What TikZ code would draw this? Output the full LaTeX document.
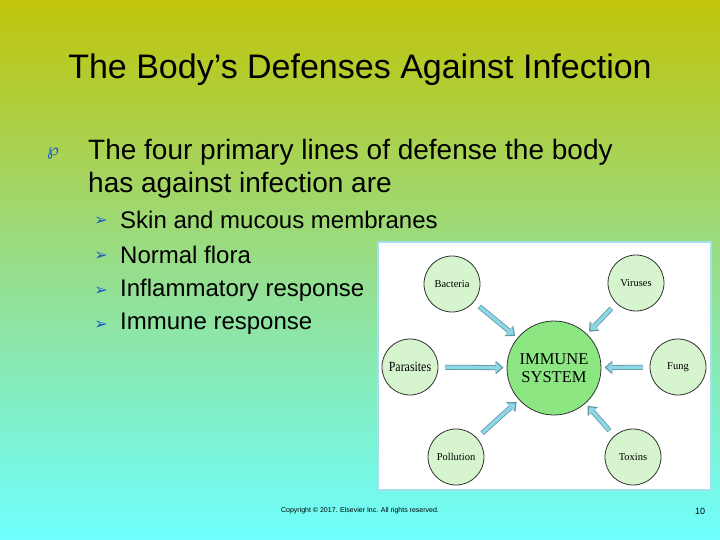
\documentclass[tikz,border=0pt]{standalone}
\usepackage{fontspec}
\setmainfont{Liberation Sans}
\newfontfamily\serifc{Liberation Serif}
\newfontfamily\dejavu{DejaVu Sans}
\usetikzlibrary{arrows.meta}
\definecolor{bgtop}{RGB}{192,196,10}
\definecolor{bgmid}{RGB}{150,222,140}
\definecolor{bgbot}{RGB}{110,255,255}
\definecolor{cfill}{RGB}{214,245,206}
\definecolor{cmain}{RGB}{140,230,130}
\definecolor{arw}{RGB}{140,215,232}
\definecolor{bul}{RGB}{30,90,200}
\tikzset{
 small/.style={circle,draw=black!80,line width=0.8pt,fill=cfill,minimum size=56pt,inner sep=0pt,font=\serifc\fontsize{10.5}{11}\selectfont},
 big/.style={circle,draw=black!80,line width=0.8pt,fill=cmain,minimum size=94pt,inner sep=0pt,align=center,font=\serifc\fontsize{16.5}{18}\selectfont},
 blk/.style={draw=arw!70!black,line width=5pt,shorten <=7pt,shorten >=3pt,-{Triangle[length=8pt,width=13pt]}},
 inn/.style={draw=arw,line width=3.4pt,shorten <=7.6pt,shorten >=5pt,-{Triangle[length=6pt,width=10pt]}},
 txt/.style={anchor=west,inner sep=0pt}
}
\begin{document}
\begin{tikzpicture}[x=1pt,y=-1pt]
\useasboundingbox (0,0) rectangle (720,540);
\shade[top color=bgtop,bottom color=bgbot,middle color=bgmid] (0,0) rectangle (720,540);
\node[inner sep=0pt,font=\fontsize{34}{38}\selectfont] (title) at (360,70) {The Body’s Defenses Against Infection};
\node[inner sep=0pt,text=bul,font=\dejavu\fontsize{17}{17}\selectfont] (b0) at (53,153) {℘};
\node[txt,font=\fontsize{28}{32}\selectfont] (l1) at (88,152) {The four primary lines of defense the body};
\node[txt,font=\fontsize{28}{32}\selectfont] (l2) at (88,185) {has against infection are};
\foreach \t/\y [count=\i] in {Skin and mucous membranes/220,Normal flora/255,Inflammatory response/290,Immune response/324}{
 \node[inner sep=0pt,text=bul,font=\dejavu\fontsize{16}{16}\selectfont] (a\i) at (101,\y+1) {➢};
 \node[txt,font=\fontsize{24}{26}\selectfont] (s\i) at (120,\y) {\t};
}
\node[draw=arw!80,line width=2pt,fill=white,minimum width=333pt,minimum height=248pt,inner sep=0pt] (img) at (544.5,366) {};
\node[big] (imm) at (554,368) {IMMUNE\\SYSTEM};
\node[small] (bac) at (452,284) {Bacteria};
\node[small] (vir) at (636,283) {Viruses};
\node[small,font=\serifc\fontsize{14}{14}\selectfont] (par) at (410,367) {\scalebox{0.85}[1]{Parasites}};
\node[small] (fun) at (678,367) {Fung};
\node[small] (pol) at (456,457) {Pollution};
\node[small] (tox) at (633,457) {Toxins};
\foreach \n in {bac,vir,par,fun,pol,tox}{
 \draw[blk] (\n) -- (imm);
 \draw[inn] (\n) -- (imm);
}
\node[inner sep=0pt,font=\fontsize{7}{8}\selectfont] (copy) at (360,511) {Copyright © 2017. Elsevier Inc. All rights reserved.};
\node[inner sep=0pt,font=\fontsize{9}{10}\selectfont] (pg) at (700,511) {10};
\end{tikzpicture}
\end{document}
